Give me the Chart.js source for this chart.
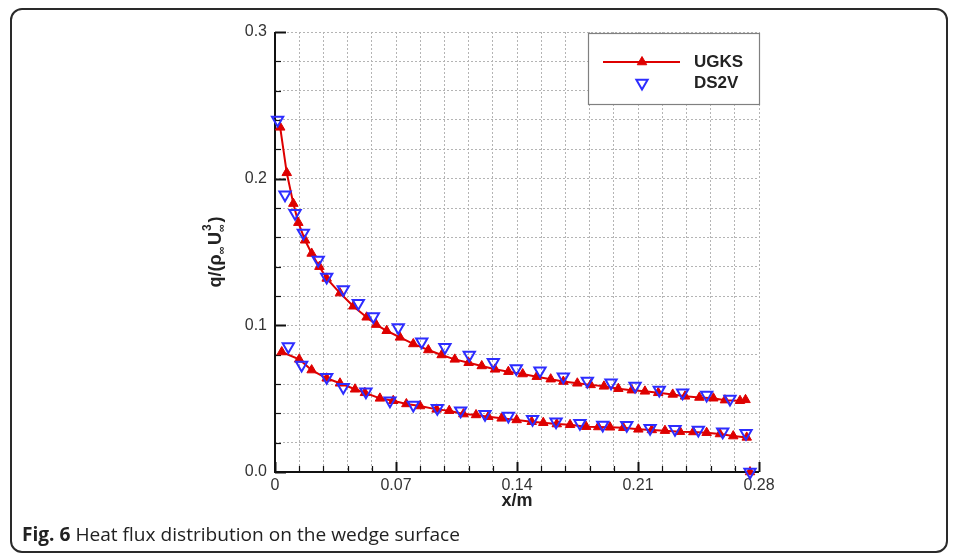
<!DOCTYPE html>
<html>
<head>
<meta charset="utf-8">
<script src="https://cdn.jsdelivr.net/npm/chart.js@4.4.0/dist/chart.umd.min.js"></script>
<style>
  html, body { margin: 0; padding: 0; background: #fff; }
  #wrap { position: relative; width: 958px; height: 553px; overflow: hidden; }
  #frame { position: absolute; left: 10px; top: 8px; width: 938px; height: 545px;
           border: 2px solid #2a2a2a; border-radius: 12px; box-sizing: border-box; }
  canvas { position: absolute; left: 0; top: 0; }
</style>
</head>
<body>
<div id="wrap">
  <div id="frame"></div>
  <canvas id="chart" width="958" height="553"></canvas>
</div>
<script>
// Heat flux q/(rho U^3) along the wedge surface, upper and lower branches.
const ugksUpperX = [0.0030, 0.0068, 0.0106, 0.0135, 0.0174, 0.0212, 0.0257, 0.0299, 0.0376, 0.0453,
                    0.0530, 0.0585, 0.0646, 0.0723, 0.0800, 0.0887, 0.0964, 0.1040, 0.1120, 0.1196,
                    0.1273, 0.1350, 0.1433, 0.1514, 0.1595, 0.1668, 0.1749, 0.1826, 0.1903, 0.1986,
                    0.2064, 0.2140, 0.2217, 0.2301, 0.2372, 0.2455, 0.2536, 0.2603, 0.2690, 0.2722];
const ugksUpperY = [0.235, 0.204, 0.183, 0.170, 0.158, 0.149, 0.140, 0.132, 0.122, 0.113,
                    0.1055, 0.1005, 0.0963, 0.0918, 0.0873, 0.0832, 0.0798, 0.0768, 0.0745, 0.0723,
                    0.0700, 0.0684, 0.0668, 0.0650, 0.0633, 0.0617, 0.0605, 0.0594, 0.0584, 0.0568,
                    0.0558, 0.0550, 0.0540, 0.0529, 0.0516, 0.0508, 0.0503, 0.0490, 0.0486, 0.0492];

const ugksLowerX = [0.0039, 0.0140, 0.0212, 0.0299, 0.0376, 0.0463, 0.0520, 0.0607, 0.0684, 0.0760,
                    0.0839, 0.0935, 0.1008, 0.1090, 0.1163, 0.1234, 0.1311, 0.1398, 0.1485, 0.1552,
                    0.1630, 0.1707, 0.1800, 0.1870, 0.1938, 0.2015, 0.2102, 0.2180, 0.2256, 0.2343,
                    0.2420, 0.2497, 0.2574, 0.2651, 0.2729];
const ugksLowerY = [0.0818, 0.0768, 0.0695, 0.0639, 0.0605, 0.0564, 0.0540, 0.0502, 0.0486, 0.0464,
                    0.0450, 0.0427, 0.0418, 0.0395, 0.0389, 0.0377, 0.0366, 0.0355, 0.0343, 0.0336,
                    0.0327, 0.0322, 0.0309, 0.0307, 0.0305, 0.0302, 0.0291, 0.0287, 0.0282, 0.0275,
                    0.0273, 0.0268, 0.0259, 0.0245, 0.0236];

// trailing edge value of the UGKS solution
const ugksEdgeX = [0.2748];
const ugksEdgeY = [0.0];

const ds2vUpperX = [0.0015, 0.0058, 0.0116, 0.0164, 0.0250, 0.0299, 0.0395, 0.0482, 0.0569, 0.0713,
                    0.0849, 0.0983, 0.1124, 0.1263, 0.1396, 0.1533, 0.1668, 0.1807, 0.1944, 0.2083,
                    0.2223, 0.2358, 0.2497, 0.2632];
const ds2vUpperY = [0.240, 0.189, 0.1765, 0.163, 0.1445, 0.133, 0.1245, 0.115, 0.106, 0.0986,
                    0.0888, 0.0850, 0.0798, 0.0748, 0.0705, 0.0690, 0.0650, 0.0620, 0.0609, 0.0586,
                    0.0559, 0.0541, 0.0525, 0.0498];

const ds2vLowerX = [0.0077, 0.0154, 0.0299, 0.0395, 0.0526, 0.0665, 0.0800, 0.0939, 0.1074, 0.1215,
                    0.1350, 0.1490, 0.1626, 0.1764, 0.1896, 0.2035, 0.2170, 0.2314, 0.2449, 0.2590,
                    0.2725, 0.2748];
const ds2vLowerY = [0.0855, 0.0730, 0.0646, 0.0577, 0.0548, 0.0486, 0.0457, 0.0434, 0.0418, 0.0393,
                    0.0382, 0.0359, 0.0343, 0.0332, 0.0320, 0.0318, 0.0298, 0.0291, 0.0286, 0.0275,
                    0.0264, 0.0];

const seriesNames = ['UGKS', 'DS2V'];
const xTickLabels = ['0', '0.07', '0.14', '0.21', '0.28'];
const yTickLabels = ['0.0', '0.1', '0.2', '0.3'];
const xAxisTitle = 'x/m';
const captionBold = 'Fig. 6';
const captionText = 'Heat flux distribution on the wedge surface';

const RED = 'rgb(222,0,0)';
const BLUE = 'rgb(45,45,255)';
const TICK_FONT = '"Liberation Sans", Arial, sans-serif';

const pts = (xs, ys) => xs.map((x, i) => ({ x, y: ys[i] }));

const ds2vStyle = {
  showLine: false, pointStyle: 'triangle', pointRotation: 180, pointRadius: 6.5,
  pointBackgroundColor: 'rgba(255,255,255,0)', pointBorderColor: BLUE, pointBorderWidth: 2,
  borderColor: BLUE, backgroundColor: BLUE, clip: false
};
const ugksStyle = {
  showLine: true, tension: 0, borderColor: RED, borderWidth: 2, pointStyle: 'triangle',
  pointRadius: 5.5, pointBackgroundColor: RED, pointBorderColor: RED, pointBorderWidth: 1,
  backgroundColor: RED, clip: false
};

// Axis lines with inward major/minor ticks, legend, titles and caption
const axesPlugin = {
  id: 'axesPlugin',
  beforeDatasetsDraw(chart) {
    const { ctx, scales: { x, y }, chartArea: a } = chart;
    ctx.save();
    ctx.strokeStyle = '#111';
    x.ticks.forEach((t, i) => {
      const px = Math.round(x.getPixelForValue(t.value)) + 0.5;
      const major = i % 5 === 0;
      ctx.lineWidth = major ? 2 : 1.2;
      ctx.beginPath(); ctx.moveTo(px, a.bottom); ctx.lineTo(px, a.bottom - (major ? 10 : 6)); ctx.stroke();
    });
    y.ticks.forEach((t, i) => {
      const py = Math.round(y.getPixelForValue(t.value)) + 0.5;
      const major = i % 5 === 0;
      ctx.lineWidth = major ? 2 : 1.2;
      ctx.beginPath(); ctx.moveTo(a.left, py); ctx.lineTo(a.left + (major ? 11 : 6), py); ctx.stroke();
    });
    ctx.lineWidth = 2;
    ctx.beginPath();
    ctx.moveTo(a.left, a.top); ctx.lineTo(a.left, a.bottom); ctx.lineTo(a.right, a.bottom);
    ctx.stroke();
    ctx.restore();
  },
  afterDraw(chart) {
    const { ctx, chartArea: a } = chart;
    ctx.save();

    // legend box
    const bw = 171, bh = 71;
    const bx = a.right - bw, by = a.top + 1;
    ctx.fillStyle = '#fff';
    ctx.fillRect(bx, by, bw, bh);
    ctx.strokeStyle = '#808080'; ctx.lineWidth = 1.2;
    ctx.strokeRect(bx + 0.5, by + 0.5, bw, bh);
    const sx = bx + 54, ly1 = by + 29, ly2 = by + 50;
    ctx.strokeStyle = RED; ctx.lineWidth = 2;
    ctx.beginPath(); ctx.moveTo(bx + 15, ly1); ctx.lineTo(bx + 92, ly1); ctx.stroke();
    ctx.fillStyle = RED; ctx.strokeStyle = RED; ctx.lineWidth = 1;
    Chart.helpers.drawPoint(ctx, { pointStyle: 'triangle', radius: 5.5, rotation: 0, borderWidth: 1 }, sx, ly1);
    ctx.strokeStyle = BLUE; ctx.lineWidth = 2; ctx.fillStyle = 'rgba(255,255,255,0)';
    Chart.helpers.drawPoint(ctx, { pointStyle: 'triangle', radius: 6.5, rotation: 180, borderWidth: 2 }, sx, ly2);
    ctx.fillStyle = '#222';
    ctx.font = 'bold 17px ' + TICK_FONT;
    ctx.textBaseline = 'middle'; ctx.textAlign = 'left';
    ctx.fillText(seriesNames[0], bx + 106, ly1);
    ctx.fillText(seriesNames[1], bx + 106, ly2);

    // x axis title
    ctx.font = 'bold 18px ' + TICK_FONT;
    ctx.textAlign = 'center';
    ctx.fillText(xAxisTitle, (a.left + a.right) / 2, a.bottom + 29);

    // y axis title q/(rho_inf U_inf^3), rotated
    ctx.save();
    ctx.translate(a.left - 54, (a.top + a.bottom) / 2);
    ctx.rotate(-Math.PI / 2);
    ctx.textAlign = 'left'; ctx.textBaseline = 'alphabetic';
    const big = 'bold 18px ' + TICK_FONT, small = 'bold 11px ' + TICK_FONT;
    const parts = [
      { t: 'q/(\u03C1', f: big, dy: 0 },
      { t: '\u221E', f: small, dy: 4 },
      { t: 'U', f: big, dy: 0 },
      { t: '\u221E', f: small, dy: 4, sup: '3' },
      { t: ')', f: big, dy: 0 }
    ];
    let total = 0;
    parts.forEach(p => { ctx.font = p.f; p.w = ctx.measureText(p.t).width + (p.f === small ? 1.5 : 0); total += p.w; });
    let cx = -total / 2;
    parts.forEach(p => {
      ctx.font = p.f;
      ctx.fillText(p.t, cx, p.dy);
      if (p.sup) { ctx.font = 'bold 12px ' + TICK_FONT; ctx.fillText(p.sup, cx + 1, -10); }
      cx += p.w;
    });
    ctx.restore();

    // caption
    ctx.textAlign = 'left'; ctx.textBaseline = 'alphabetic';
    const capBold = 'bold 19px "Open Sans", sans-serif', capReg = '19px "Open Sans", sans-serif';
    ctx.font = capBold; const w1 = ctx.measureText(captionBold + ' ').width;
    ctx.font = capReg; const w2 = ctx.measureText(captionText).width;
    const k = 438 / (w1 + w2);
    ctx.save();
    ctx.translate(22, 541); ctx.scale(k, 1);
    ctx.fillStyle = '#222';
    ctx.font = capBold; ctx.fillText(captionBold, 0, 0);
    ctx.font = capReg; ctx.fillText(captionText, w1, 0);
    ctx.restore();

    ctx.restore();
  }
};

new Chart(document.getElementById('chart'), {
  type: 'scatter',
  data: {
    datasets: [
      Object.assign({ label: seriesNames[1], data: pts(ds2vUpperX, ds2vUpperY) }, ds2vStyle),
      Object.assign({ label: seriesNames[1], data: pts(ds2vLowerX, ds2vLowerY) }, ds2vStyle),
      Object.assign({ label: seriesNames[0], data: pts(ugksUpperX, ugksUpperY) }, ugksStyle),
      Object.assign({ label: seriesNames[0], data: pts(ugksLowerX, ugksLowerY) }, ugksStyle),
      Object.assign({ label: seriesNames[0], data: pts(ugksEdgeX, ugksEdgeY) }, ugksStyle)
    ]
  },
  options: {
    responsive: false,
    animation: false,
    devicePixelRatio: 1,
    layout: { padding: { left: 0, top: 32, right: 199, bottom: 0 } },
    plugins: { legend: { display: false }, tooltip: { enabled: false } },
    scales: {
      x: {
        type: 'linear', min: 0, max: 0.28,
        afterFit(s) { s.height = 81; },
        border: { display: false, dash: [2, 2] },
        grid: { color: '#b4b4b4', lineWidth: 1, drawTicks: false },
        ticks: {
          stepSize: 0.014, autoSkip: false, maxRotation: 0, padding: 4,
          color: '#333', font: { family: TICK_FONT, size: 16 },
          callback: (v, i) => (i % 5 === 0 ? xTickLabels[i / 5] : '')
        }
      },
      y: {
        type: 'linear', min: 0, max: 0.3,
        afterFit(s) { s.width = 275; },
        border: { display: false, dash: [2, 2] },
        grid: { color: '#b4b4b4', lineWidth: 1, drawTicks: false },
        ticks: {
          stepSize: 0.02, autoSkip: false, padding: 8,
          color: '#333', font: { family: TICK_FONT, size: 16 },
          callback: (v, i) => (i % 5 === 0 ? yTickLabels[i / 5] : '')
        }
      }
    }
  },
  plugins: [axesPlugin]
});
</script>
</body>
</html>
